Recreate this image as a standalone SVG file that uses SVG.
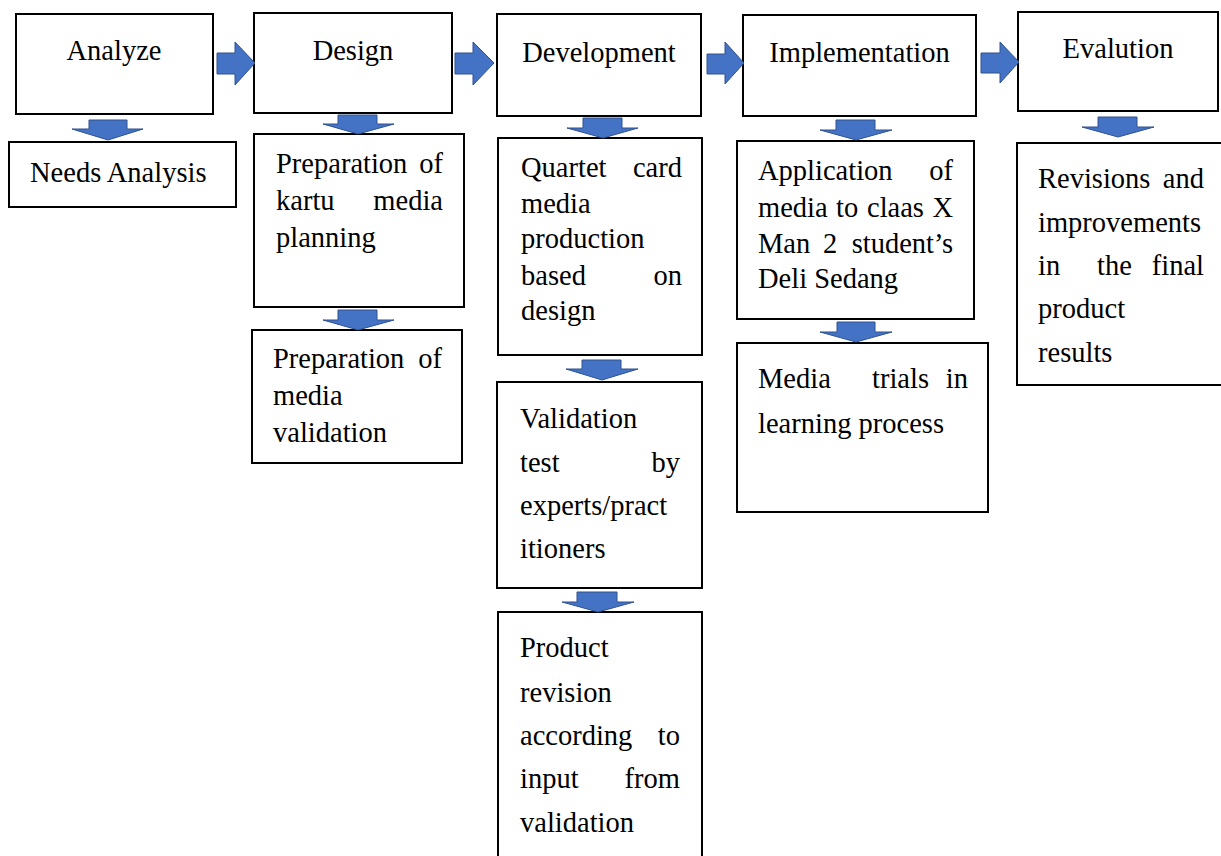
<svg xmlns="http://www.w3.org/2000/svg" width="1221" height="856" viewBox="0 0 1221 856">
  <style>
    .box { fill: #ffffff; stroke: #000000; stroke-width: 2; }
    .arrow { fill: #4472C4; stroke: #2F528F; stroke-width: 1; }
    .t { font-family: "Liberation Serif", "Times New Roman", serif; font-size: 28.5px; fill: #000000; }
    .c { text-anchor: middle; }
    .e { text-anchor: end; }
  </style>
  <rect width="1221" height="856" fill="#ffffff"/>

  <!-- Analyze column -->
  <g id="analyze">
    <rect class="box" x="16" y="14" width="197" height="100"/>
    <text class="t c" x="114" y="60">Analyze</text>
  </g>
  <g id="needs-analysis">
    <rect class="box" x="9" y="142" width="227" height="65"/>
    <text class="t" x="30" y="182">Needs Analysis</text>
  </g>

  <!-- Design column -->
  <g id="design">
    <rect class="box" x="254" y="13" width="198" height="100"/>
    <text class="t c" x="353" y="60">Design</text>
  </g>
  <g id="prep-planning">
    <rect class="box" x="254" y="134" width="210" height="173"/>
    <text class="t" x="276" y="173">Preparation</text>
    <text class="t e" x="443" y="173">of</text>
    <text class="t" x="276" y="210">kartu</text>
    <text class="t e" x="443" y="210">media</text>
    <text class="t" x="276" y="247">planning</text>
  </g>
  <g id="prep-validation">
    <rect class="box" x="252" y="330" width="210" height="133"/>
    <text class="t" x="273" y="368">Preparation</text>
    <text class="t e" x="442" y="368">of</text>
    <text class="t" x="273" y="405">media</text>
    <text class="t" x="273" y="442">validation</text>
  </g>

  <!-- Development column -->
  <g id="development">
    <rect class="box" x="497" y="14" width="204" height="102"/>
    <text class="t c" x="599" y="62">Development</text>
  </g>
  <g id="production">
    <rect class="box" x="498" y="138" width="204" height="217"/>
    <text class="t" x="521" y="177">Quartet</text>
    <text class="t e" x="682" y="177">card</text>
    <text class="t" x="521" y="213">media</text>
    <text class="t" x="521" y="248">production</text>
    <text class="t" x="521" y="285">based</text>
    <text class="t e" x="682" y="285">on</text>
    <text class="t" x="521" y="320">design</text>
  </g>
  <g id="validation-test">
    <rect class="box" x="497" y="382" width="205" height="206"/>
    <text class="t" x="520" y="428">Validation</text>
    <text class="t" x="520" y="472">test</text>
    <text class="t e" x="680" y="472">by</text>
    <text class="t" x="520" y="515">experts/pract</text>
    <text class="t" x="520" y="558">itioners</text>
  </g>
  <g id="product-revision">
    <rect class="box" x="498" y="612" width="204" height="260"/>
    <text class="t" x="520" y="657">Product</text>
    <text class="t" x="520" y="702">revision</text>
    <text class="t" x="520" y="745">according</text>
    <text class="t e" x="680" y="745">to</text>
    <text class="t" x="520" y="788">input</text>
    <text class="t e" x="680" y="788">from</text>
    <text class="t" x="520" y="832">validation</text>
  </g>

  <!-- Implementation column -->
  <g id="implementation">
    <rect class="box" x="743" y="15" width="233" height="101"/>
    <text class="t c" x="859.5" y="62">Implementation</text>
  </g>
  <g id="application">
    <rect class="box" x="737" y="141" width="237" height="178"/>
    <text class="t" x="758" y="180">Application</text>
    <text class="t e" x="953" y="180">of</text>
    <text class="t" x="758" y="217">media</text>
    <text class="t" x="836" y="217">to</text>
    <text class="t" x="867" y="217">claas</text>
    <text class="t e" x="953" y="217">X</text>
    <text class="t" x="758" y="253">Man</text>
    <text class="t" x="823" y="253">2</text>
    <text class="t e" x="953" y="253">student’s</text>
    <text class="t" x="758" y="288">Deli Sedang</text>
  </g>
  <g id="media-trials">
    <rect class="box" x="737" y="343" width="251" height="169"/>
    <text class="t" x="758" y="388">Media</text>
    <text class="t" x="872" y="388">trials</text>
    <text class="t e" x="968" y="388">in</text>
    <text class="t" x="758" y="433">learning process</text>
  </g>

  <!-- Evaluation column -->
  <g id="evalution">
    <rect class="box" x="1018" y="12" width="200" height="99"/>
    <text class="t c" x="1118" y="58">Evalution</text>
  </g>
  <g id="revisions">
    <rect class="box" x="1017" y="143" width="220" height="242"/>
    <text class="t" x="1038" y="188">Revisions</text>
    <text class="t e" x="1204" y="188">and</text>
    <text class="t" x="1038" y="232">improvements</text>
    <text class="t" x="1038" y="275">in</text>
    <text class="t" x="1097" y="275">the</text>
    <text class="t e" x="1204" y="275">final</text>
    <text class="t" x="1038" y="318">product</text>
    <text class="t" x="1038" y="362">results</text>
  </g>

  <!-- Block arrows between stages -->
  <g id="connectors">
    <!-- horizontal: stage to stage -->
    <path class="arrow" d="M217,53 H235 V42 L255,63 L235,85 V74 H217 Z"/>
    <path class="arrow" d="M455,53 H473 V42 L494,63 L473,85 V74 H455 Z"/>
    <path class="arrow" d="M707,54 H725 V42 L744,63 L725,84 V74 H707 Z"/>
    <path class="arrow" d="M981,53 H1000 V42 L1019,62 L1000,83 V73 H981 Z"/>
    <!-- vertical: stage to tasks -->
    <path class="arrow" d="M89,120 H127 V129 H143 L108,140 L72,129 H89 Z"/>
    <path class="arrow" d="M338,115 H377 V124 H394 L358,134 L323,124 H338 Z"/>
    <path class="arrow" d="M338,310 H377 V320 H394 L358,330 L323,320 H338 Z"/>
    <path class="arrow" d="M583,118 H622 V128 H638 L603,138 L567,128 H583 Z"/>
    <path class="arrow" d="M582,360 H621 V369 H638 L602,380 L566,369 H582 Z"/>
    <path class="arrow" d="M577,592 H617 V602 H634 L598,612 L562,602 H577 Z"/>
    <path class="arrow" d="M836,120 H875 V130 H892 L856,140 L820,130 H836 Z"/>
    <path class="arrow" d="M837,322 H875 V332 H892 L856,342 L820,332 H837 Z"/>
    <path class="arrow" d="M1098,117 H1137 V127 H1154 L1118,137 L1082,127 H1098 Z"/>
  </g>
</svg>
